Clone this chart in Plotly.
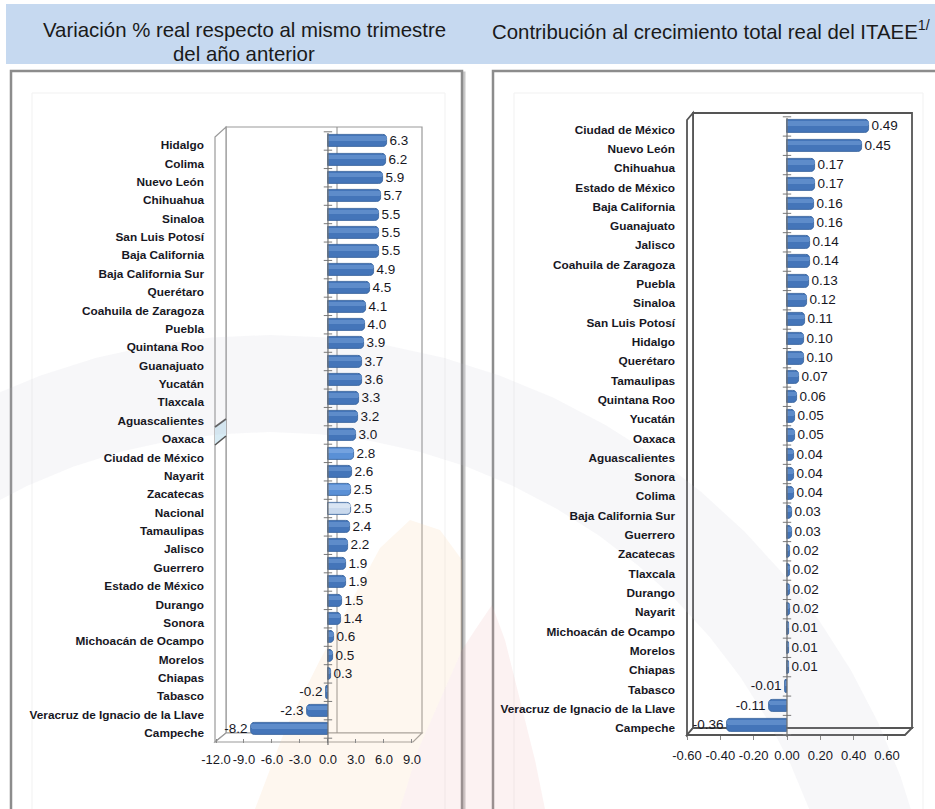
import math
import plotly.graph_objects as go

# ---------------- data ----------------
estados_var = [
    "Hidalgo", "Colima", "Nuevo León", "Chihuahua", "Sinaloa", "San Luis Potosí",
    "Baja California", "Baja California Sur", "Querétaro", "Coahuila de Zaragoza",
    "Puebla", "Quintana Roo", "Guanajuato", "Yucatán", "Tlaxcala", "Aguascalientes",
    "Oaxaca", "Ciudad de México", "Nayarit", "Zacatecas", "Nacional", "Tamaulipas",
    "Jalisco", "Guerrero", "Estado de México", "Durango", "Sonora",
    "Michoacán de Ocampo", "Morelos", "Chiapas", "Tabasco",
    "Veracruz de Ignacio de la Llave", "Campeche",
]
variacion = [
    6.3, 6.2, 5.9, 5.7, 5.5, 5.5, 5.5, 4.9, 4.5, 4.1, 4.0, 3.9, 3.7, 3.6, 3.3, 3.2,
    3.0, 2.8, 2.6, 2.5, 2.5, 2.4, 2.2, 1.9, 1.9, 1.5, 1.4, 0.6, 0.5, 0.3, -0.2,
    -2.3, -8.2,
]

estados_con = [
    "Ciudad de México", "Nuevo León", "Chihuahua", "Estado de México",
    "Baja California", "Guanajuato", "Jalisco", "Coahuila de Zaragoza", "Puebla",
    "Sinaloa", "San Luis Potosí", "Hidalgo", "Querétaro", "Tamaulipas",
    "Quintana Roo", "Yucatán", "Oaxaca", "Aguascalientes", "Sonora", "Colima",
    "Baja California Sur", "Guerrero", "Zacatecas", "Tlaxcala", "Durango",
    "Nayarit", "Michoacán de Ocampo", "Morelos", "Chiapas", "Tabasco",
    "Veracruz de Ignacio de la Llave", "Campeche",
]
contribucion = [
    0.49, 0.45, 0.17, 0.17, 0.16, 0.16, 0.14, 0.14, 0.13, 0.12, 0.11, 0.10, 0.10,
    0.07, 0.06, 0.05, 0.05, 0.04, 0.04, 0.04, 0.03, 0.03, 0.02, 0.02, 0.02, 0.02,
    0.01, 0.01, 0.01, -0.01, -0.11, -0.36,
]

ticks_var = [-12.0, -9.0, -6.0, -3.0, 0.0, 3.0, 6.0, 9.0]
ticks_con = [-0.60, -0.40, -0.20, 0.00, 0.20, 0.40, 0.60]

titulo_var = ["Variación % real respecto al mismo trimestre", "del año anterior"]
titulo_con = "Contribución al crecimiento total real del ITAEE<sup>1/</sup>"

# ---------------- page geometry (pixels) ----------------
W, H = 935, 809
FONT = "Liberation Sans, Arial, sans-serif"
TXT = "#17171f"


def fx(x):
    return x / W


def fy(y):
    return 1 - y / H


# plot areas: (x0, x1, y_top, y_bottom) in pixels
AREA_VAR = (216, 416.6, 131.8, 738.2)
AREA_CON = (687, 912, 116.8, 734.7)
RANGE_VAR = [-12, 9.5]
RANGE_CON = [-0.6, 0.75]

BAR_DARK = "#4475b9"
BAR_SHINE = "#6f9bd6"
BAR_ALT = "#5a90d6"
BAR_ALT_SHINE = "#86afe4"
BAR_NAC = "#c9d9ed"
BAR_NAC_SHINE = "#e4ecf7"


def bar_colors(names, lighter):
    base, shine = [], []
    for n in names:
        if n == "Nacional":
            base.append(BAR_NAC)
            shine.append(BAR_NAC_SHINE)
        elif n in lighter:
            base.append(BAR_ALT)
            shine.append(BAR_ALT_SHINE)
        else:
            base.append(BAR_DARK)
            shine.append(BAR_SHINE)
    return base, shine


fig = go.Figure()


def add_chart(names, values, xa, ya, fmt, tickvals, area, xrange, label_shift, lighter=()):
    idx = list(range(len(names)))
    base, shine = bar_colors(names, lighter)
    fig.add_trace(go.Bar(
        x=values, y=idx, orientation="h", xaxis=xa, yaxis=ya,
        width=0.66, offset=-0.33,
        marker=dict(color=base, line=dict(color="#335f98", width=0.8), cornerradius=4),
        text=[format(v, fmt) for v in values], textposition="outside",
        textfont=dict(family=FONT, size=13.5, color=TXT),
        cliponaxis=False, constraintext="none", hoverinfo="x+y",
        showlegend=False,
    ))
    fig.add_trace(go.Bar(
        x=values, y=idx, orientation="h", xaxis=xa, yaxis=ya,
        width=0.24, offset=-0.27,
        marker=dict(color=shine, line=dict(width=0), opacity=0.6, cornerradius=2),
        hoverinfo="skip", showlegend=False,
    ))
    # small tick marks along the zero axis
    fig.add_trace(go.Scatter(
        x=[0] * (len(names) + 1), y=[i - 0.5 for i in range(len(names) + 1)],
        xaxis=xa, yaxis=ya, mode="markers",
        marker=dict(symbol="line-ew", size=6, line=dict(color="#7a7a7a", width=1)),
        hoverinfo="skip", showlegend=False, cliponaxis=False,
    ))
    x0, x1, yt, yb = area
    xkey = "xaxis" if xa == "x" else "xaxis" + xa[1:]
    ykey = "yaxis" if ya == "y" else "yaxis" + ya[1:]
    fig.layout[xkey] = dict(
        domain=[fx(x0), fx(x1)], range=xrange, anchor=ya,
        tickvals=tickvals, ticktext=[format(t, fmt) for t in tickvals],
        ticks="outside", ticklen=4, tickcolor="#8a8a8a", tickangle=0,
        tickfont=dict(family=FONT, size=13, color=TXT),
        showgrid=False, zeroline=False, showline=False, ticklabelstandoff=5,
        automargin=False, fixedrange=True,
    )
    fig.layout[ykey] = dict(
        domain=[fy(yb), fy(yt)], range=[len(names) - 0.5, -0.5], anchor=xa,
        tickvals=idx, ticktext=names, ticks="",
        tickfont=dict(family=FONT, size=11.8, color=TXT, weight="bold"),
        showgrid=False, zeroline=False, showline=False,
        ticklabelstandoff=11, ticklabelshift=label_shift,
        automargin=False, fixedrange=True,
    )


add_chart(estados_var, variacion, "x", "y", ".1f", ticks_var, AREA_VAR, RANGE_VAR, -4,
          lighter=("Ciudad de México", "Zacatecas"))
add_chart(estados_con, contribucion, "x2", "y2", ".2f", ticks_con, AREA_CON, RANGE_CON, -3)

shapes = []


def rect(x0, y0, x1, y1, **kw):
    shapes.append(dict(type="rect", xref="paper", yref="paper", x0=fx(x0), x1=fx(x1),
                       y0=fy(y1), y1=fy(y0), layer="below", **kw))


def poly(pts, **kw):
    d = "M " + " L ".join(f"{fx(x):.5f},{fy(y):.5f}" for x, y in pts) + " Z"
    shapes.append(dict(type="path", xref="paper", yref="paper", path=d, layer="below", **kw))


def seg(x0, y0, x1, y1, color, width, layer="below"):
    shapes.append(dict(type="line", xref="paper", yref="paper", x0=fx(x0), y0=fy(y0),
                       x1=fx(x1), y1=fy(y1), line=dict(color=color, width=width), layer=layer))


# header band
rect(6, 4, 935, 64, fillcolor="#c6d9f0", line=dict(width=0))

# panel frames with a soft shadow
for (a, b) in [(11, 462), (493, 940)]:
    rect(a + 2, 73, b + 2, 815, fillcolor="rgba(0,0,0,0)", line=dict(color="#c8c8c8", width=3))
    rect(a, 71, b, 813, fillcolor="white", line=dict(color="#8c8c8c", width=2.5))
    rect(a + 21, 93, b - 17, 813, fillcolor="rgba(0,0,0,0)", line=dict(color="#f1f1f1", width=1))

# 3-D box of the left chart
poly([(226, 127), (422, 127), (422, 733), (226, 733)], fillcolor="white",
     line=dict(color="#9a9a9a", width=1.2))
poly([(215, 137), (226, 127), (226, 733), (215, 742)], fillcolor="white",
     line=dict(color="#9a9a9a", width=1.2))
poly([(215, 742), (226, 733), (422, 733), (413, 742)], fillcolor="white",
     line=dict(color="#9a9a9a", width=1.2))
poly([(215, 427), (226, 419), (226, 436), (215, 445)], fillcolor="#d7ebf4",
     line=dict(width=0))
seg(215, 427, 226, 419, "#555555", 1.6)
seg(215, 445, 226, 436, "#555555", 1.6)

# 3-D box of the right chart
poly([(693, 113), (912, 113), (912, 728), (693, 728)], fillcolor="white",
     line=dict(color="#555555", width=1.8))
poly([(687, 120), (693, 113), (693, 728), (687, 735)], fillcolor="white",
     line=dict(color="#555555", width=1.8))
poly([(687, 735), (693, 728), (912, 728), (905, 735)], fillcolor="white",
     line=dict(color="#555555", width=1.8))

# back-wall line of the left chart
seg(337, 733, 337, 127, "#8a8a8a", 1)

# faint background emblem: a wide grey arc and two warm crescents
cx, cy, r_in, r_out = 270, 1006, 574, 671
outer = [(cx + r_out * math.cos(math.radians(a)), cy - r_out * math.sin(math.radians(a)))
         for a in range(185, 10, -5)]
inner = [(cx + r_in * math.cos(math.radians(a)), cy - r_in * math.sin(math.radians(a)))
         for a in range(10, 186, 5)]
poly(outer + inner, fillcolor="rgba(196,196,212,0.13)", line=dict(width=0))
poly([(255, 809), (285, 730), (320, 660), (352, 600), (380, 548), (410, 520), (440, 530),
      (462, 560), (462, 650), (440, 700), (418, 750), (400, 809)],
     fillcolor="rgba(250,210,165,0.18)", line=dict(width=0))
poly([(400, 809), (418, 750), (440, 700), (462, 650), (475, 630), (492, 605), (505, 640),
      (520, 700), (535, 760), (545, 809)],
     fillcolor="rgba(235,170,170,0.15)", line=dict(width=0))

# zero axis lines
shapes.append(dict(type="line", xref="x", yref="paper", x0=0, x1=0, y0=fy(745), y1=fy(133),
                   line=dict(color="#6f6f6f", width=1.2), layer="above"))
shapes.append(dict(type="line", xref="x2", yref="paper", x0=0, x1=0, y0=fy(737), y1=fy(118),
                   line=dict(color="#6f6f6f", width=1.2), layer="above"))

title_font = dict(family=FONT, size=20.4, color="#1a1a1a")
annotations = [
    dict(text=titulo_var[0], x=fx(244), y=fy(30), xref="paper", yref="paper",
         xanchor="center", yanchor="middle", showarrow=False, font=title_font),
    dict(text=titulo_var[1], x=fx(244), y=fy(54), xref="paper", yref="paper",
         xanchor="center", yanchor="middle", showarrow=False, font=title_font),
    dict(text=titulo_con, x=fx(490), y=fy(30), xref="paper", yref="paper",
         xanchor="left", yanchor="middle", showarrow=False, font=title_font),
]

fig.update_layout(
    width=W, height=H, margin=dict(l=0, r=0, t=0, b=0, autoexpand=False),
    paper_bgcolor="white", plot_bgcolor="rgba(0,0,0,0)",
    barmode="overlay", bargap=0,
    shapes=shapes, annotations=annotations,
)

fig.write_html("out.html")
